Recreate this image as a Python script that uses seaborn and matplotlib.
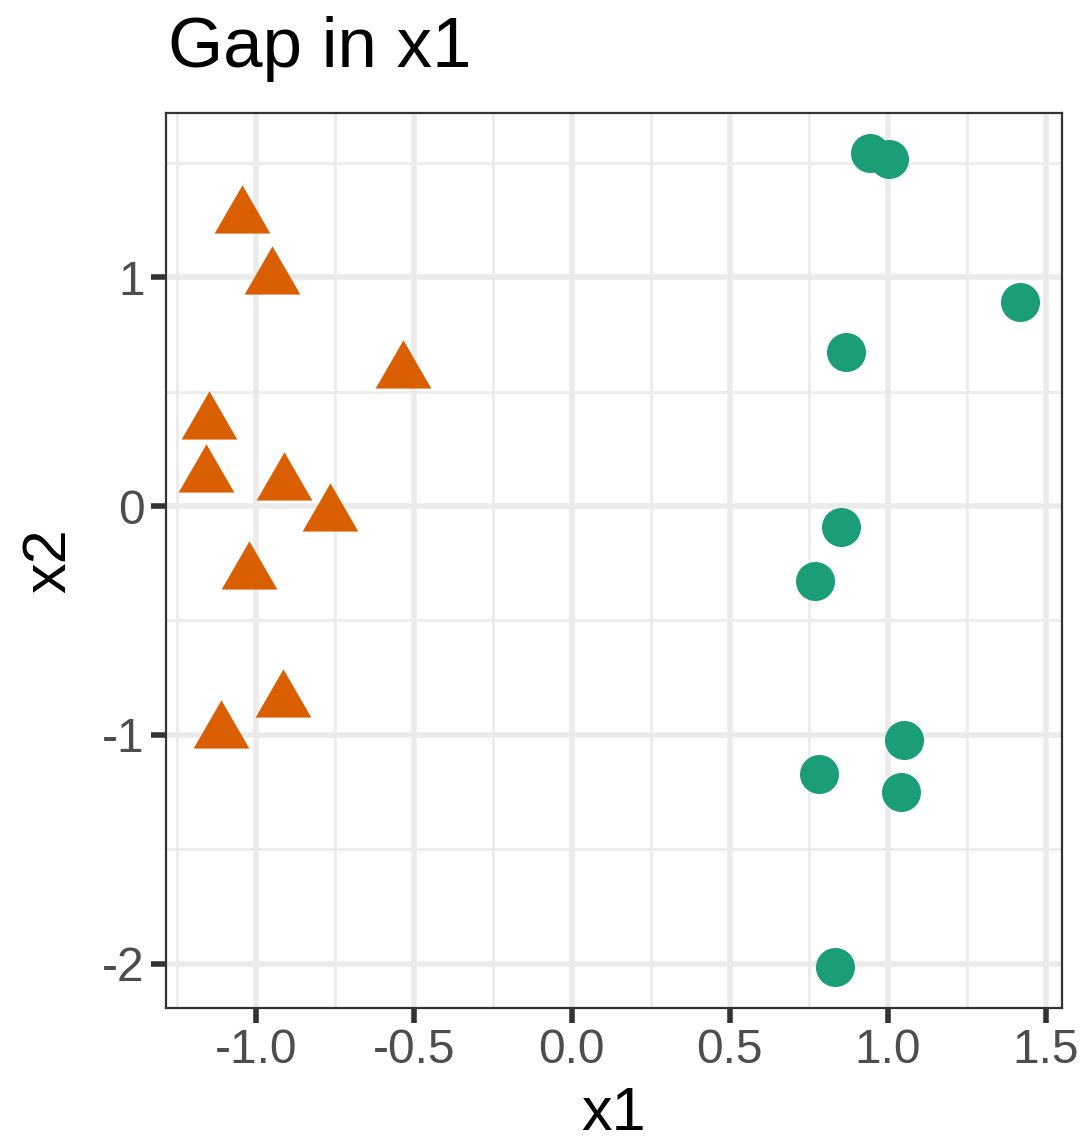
import numpy as np
import pandas as pd
import matplotlib
matplotlib.use("Agg")
import matplotlib.pyplot as plt
import seaborn as sns

# Two groups separated by a gap along x1
tri_x1 = [-1.044, -0.950, -0.535, -1.149, -1.158, -0.911, -0.766, -1.022, -0.915, -1.111]
tri_x2 = [1.262, 0.996, 0.585, 0.362, 0.131, 0.096, -0.039, -0.293, -0.852, -0.987]
dot_x1 = [0.945, 1.006, 1.420, 0.869, 0.854, 0.769, 1.051, 0.782, 1.044, 0.835]
dot_x2 = [1.544, 1.515, 0.890, 0.674, -0.092, -0.328, -1.022, -1.170, -1.249, -2.013]

x_ticks = [-1.0, -0.5, 0.0, 0.5, 1.0, 1.5]
y_ticks = [-2, -1, 0, 1]

df = pd.DataFrame({
    "x1": tri_x1 + dot_x1,
    "x2": tri_x2 + dot_x2,
    "group": ["A"] * len(tri_x1) + ["B"] * len(dot_x1),
})

sns.set_theme(style="white")
plt.rcParams["font.family"] = ["Liberation Sans", "DejaVu Sans"]

fig = plt.figure(figsize=(10.9, 11.45), dpi=100)
ax = fig.add_axes([0.152, 0.120, 0.822, 0.781])

# equilateral triangle centred on its centroid
tri = [(-1.0, -0.577), (1.0, -0.577), (0.0, 1.155), (-1.0, -0.577)]

palette = {"A": "#D95F02", "B": "#1B9E77"}
sns.scatterplot(data=df[df.group == "A"], x="x1", y="x2", color=palette["A"],
                marker=tri, s=2150, linewidth=0, ax=ax, zorder=3)
sns.scatterplot(data=df[df.group == "B"], x="x1", y="x2", color=palette["B"],
                marker="o", s=790, linewidth=0, ax=ax, zorder=3)

ax.set_xlim(-1.285, 1.551)
ax.set_ylim(-2.192, 1.716)
ax.set_xticks(x_ticks)
ax.set_xticklabels([f"{v:.1f}" for v in x_ticks])
ax.set_yticks(y_ticks)
ax.set_yticklabels([str(v) for v in y_ticks])
ax.set_xticks([-1.25, -0.75, -0.25, 0.25, 0.75, 1.25], minor=True)
ax.set_yticks([-1.5, -0.5, 0.5, 1.5], minor=True)

ax.grid(True, which="major", color="#EBEBEB", linewidth=4.0, zorder=0)
ax.grid(True, which="minor", color="#EBEBEB", linewidth=2.0, zorder=0)
ax.set_axisbelow(True)

for sp in ax.spines.values():
    sp.set_visible(True)
    sp.set_color("#333333")
    sp.set_linewidth(1.6)

ax.tick_params(axis="both", which="major", length=11, width=4.0, color="#333333",
               labelsize=34.5, labelcolor="#4D4D4D", pad=4, bottom=True, left=True)
ax.tick_params(axis="both", which="minor", length=0)

ax.set_xlabel("x1", fontsize=44, color="black", labelpad=9)
ax.set_ylabel("x2", fontsize=44, color="black", labelpad=17)
fig.text(0.154, 0.9415, "Gap in x1", fontsize=51, color="black", ha="left", va="baseline")

fig.savefig("out.png", dpi=100, facecolor="white")
